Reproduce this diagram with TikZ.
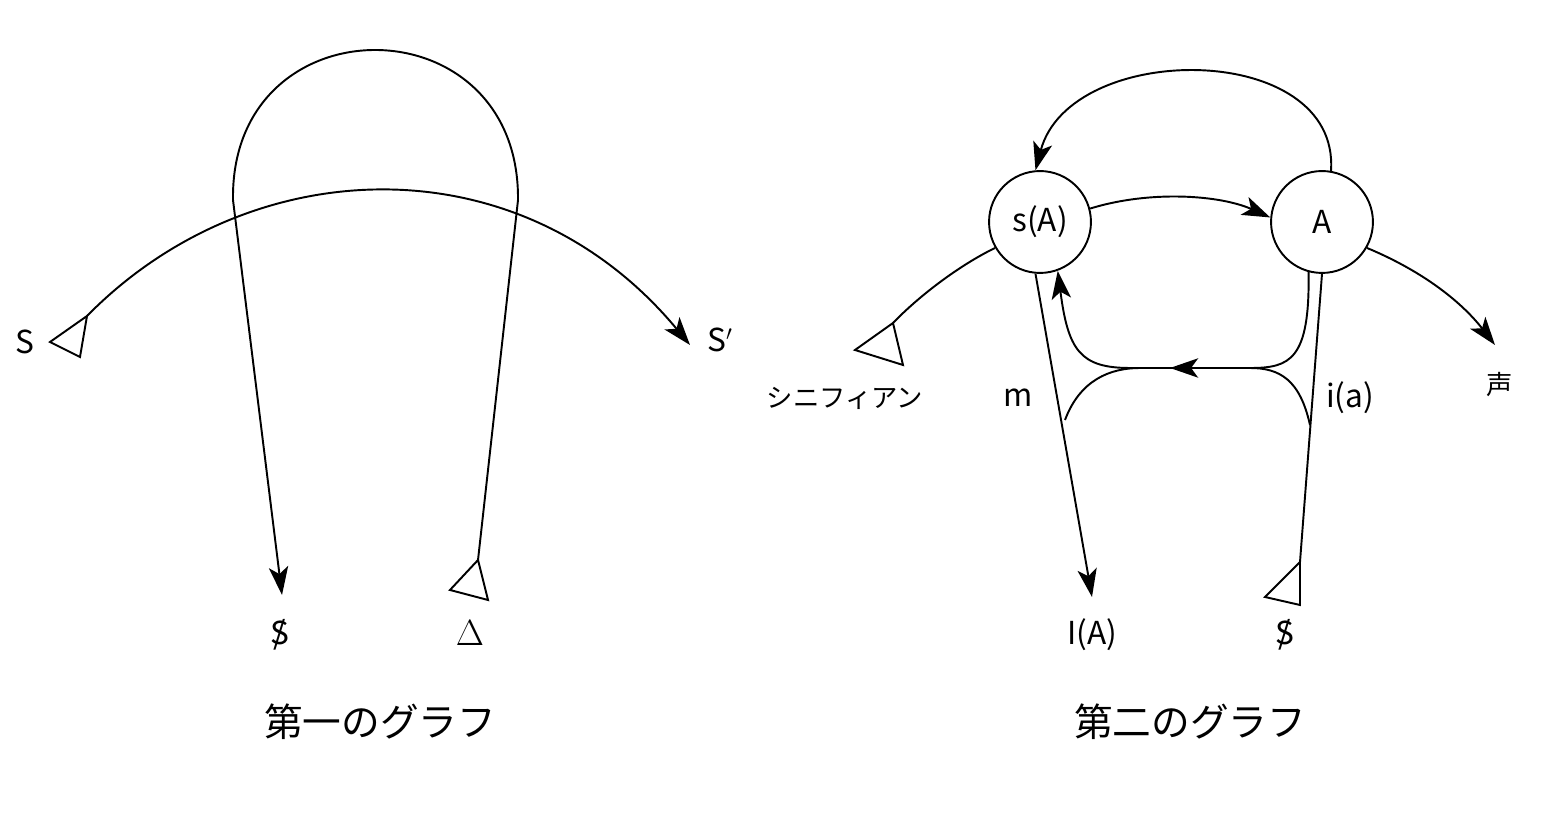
\documentclass[tikz,border=0pt]{standalone}
\usepackage{fontspec}
\setmainfont{Noto Sans CJK JP}[Scale=1]
\usetikzlibrary{arrows.meta}
\tikzset{ln/.style={line width=1.1pt},
 arr/.style={ln,-{Stealth[length=16pt,width=11pt,inset=4pt]}},
 lbl/.style={font=\fontsize{18}{18}\selectfont,inner sep=0pt},
 small/.style={font=\fontsize{15}{15}\selectfont,inner sep=0pt},
 captxt/.style={font=\fontsize{22}{22}\selectfont,inner sep=0pt},
 circ/.style={draw,circle,line width=1.1pt,minimum size=58pt,font=\fontsize{18}{18}\selectfont,inner sep=0pt},
 tri/.style={draw,line width=1.1pt,fill=white}}
\newcommand{\barS}{\makebox[0pt]{S}\makebox[0pt]{\itshape /}}
\begin{document}
\begin{tikzpicture}[x=0.02cm,y=-0.02cm]
\useasboundingbox (0,0) rectangle (1553,813);
% left graph
\node[lbl] (S) at (25,342) {S};
\node[lbl] (Sp) at (720,340) {S$'$};
\node[lbl] (Sb) at (280,635) {\barS};
\node[lbl] (D) at (470,633) {\fontsize{22}{22}\selectfont$\Delta$};
\node[captxt] (c1) at (380,722) {第一のグラフ};
\coordinate (t1) at (87,316);
\coordinate (t1e) at (690,345);
\draw[arr] (t1) .. controls (250,150) and (520,140) .. (t1e);
\draw[tri] (t1) -- (50,342) -- (80,357) -- cycle;
\coordinate (t2) at (478,560);
\draw[arr] (t2) -- (518,200) .. controls (520,0) and (230,0) .. (233,200) -- (282,595);
\draw[tri] (t2) -- (450,590) -- (488,600) -- cycle;
% right graph
\node[circ] (sA) at (1040,222) {s(A)};
\node[circ] (A) at (1322,222) {A};
\node[lbl] (IA) at (1092,635) {I(A)};
\node[lbl] (Sb2) at (1285,635) {\barS};
\node[lbl] (m) at (1018,398) {m};
\node[lbl] (ia) at (1350,398) {i(a)};
\node[small] (sig) at (845,398) {シニフィアン};
\node[small] (voice) at (1500,385) {声};
\node[captxt] (c2) at (1190,722) {第二のグラフ};
\draw[arr] (sA.15) .. controls (1150,190) and (1220,195) .. (A.175);
\draw[arr] (A.80) .. controls (1340,40) and (1070,40) .. (sA.95);
\coordinate (t3) at (893,323);
\draw[ln] (sA.210) .. controls (960,265) and (920,295) .. (t3);
\draw[tri] (t3) -- (855,350) -- (903,365) -- cycle;
\draw[arr] (A.330) .. controls (1420,270) and (1460,300) .. (1495,345);
\draw[arr] (sA.265) -- (1092,597);
\coordinate (t4) at (1300,562);
\draw[ln] (A.270) -- (t4);
\draw[tri] (t4) -- (1265,597) -- (1300,605) -- cycle;
\draw[ln] (A.255) .. controls (1310,360) and (1290,368) .. (1250,368) -- (1130,368);
\draw[arr] (1250,368) -- (1170,368);
\draw[arr] (1130,368) .. controls (1080,368) and (1068,350) .. (sA.290);
\draw[ln] (1065,420) .. controls (1080,380) and (1110,368) .. (1140,368);
\draw[ln] (1310,425) .. controls (1300,380) and (1280,368) .. (1250,368);
\end{tikzpicture}
\end{document}
